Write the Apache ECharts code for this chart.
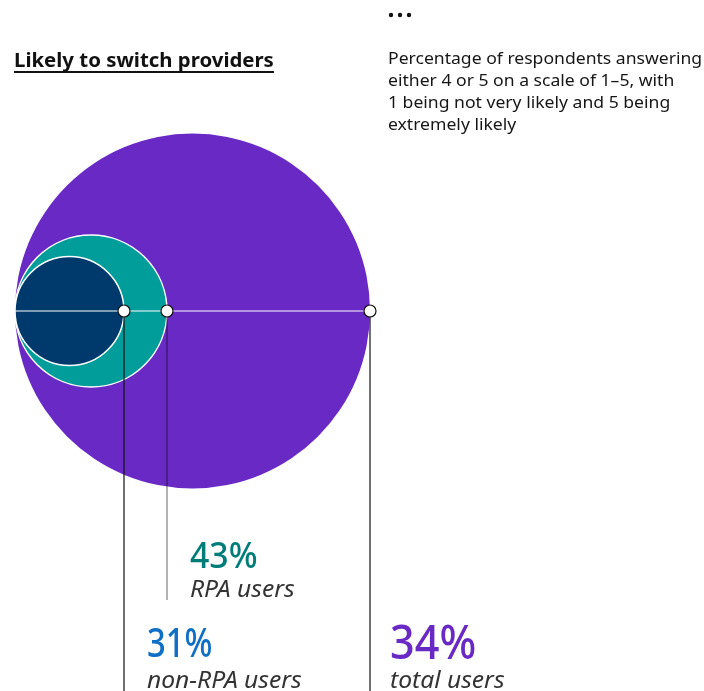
<!DOCTYPE html>
<html>
<head>
<meta charset="utf-8">
<style>
  html, body { margin: 0; padding: 0; background: #ffffff; }
  #chart { width: 704px; height: 691px; }
</style>
<script src="https://cdn.jsdelivr.net/npm/echarts@6/dist/echarts.min.js"></script>
</head>
<body>
<div id="chart"></div>
<script>
// Survey groups, their share answering 4 or 5, and each circle's span along the shared axis
const groups = ['total users', 'RPA users', 'non-RPA users'];
const shares = [34, 43, 31];
const circleSpan = [355, 152, 109];

const fills = ['#6929c4', '#009d9a', '#003a6d'];
const valueColors = ['#6929c4', '#007d79', '#0f6fc6'];
const leaderColors = ['#111111', 'rgba(0,0,0,0.5)', '#111111'];
const valueSizes = [48, 36, 40];
const valueStretch = [0.9, 0.94, 0.82];

const chart = echarts.init(document.getElementById('chart'), null, { renderer: 'canvas' });
const textFont = '"Noto Sans", Roboto, sans-serif';

const seriesData = groups.map((g, i) => [circleSpan[i], shares[i], i]);

const menuDots = [0, 1, 2].map(k => ({
  type: 'circle',
  shape: { cx: 391 + k * 9, cy: 15, r: 2.2 },
  style: { fill: '#111' }
}));

chart.setOption({
  animation: false,
  graphic: menuDots.concat([
    {
      type: 'text', x: 14, y: 51, scaleX: 1.045,
      style: { text: 'Likely to switch providers', font: 'bold 19.5px ' + textFont, fill: '#111' }
    },
    {
      type: 'rect', left: 14, top: 71,
      shape: { width: 260, height: 2 },
      style: { fill: '#111' }
    },
    {
      type: 'text', x: 388, y: 48, scaleX: 1.065,
      style: {
        text: 'Percentage of respondents answering\neither 4 or 5 on a scale of 1\u20135, with\n1 being not very likely and 5 being\nextremely likely',
        font: '16.5px ' + textFont, fill: '#161616', lineHeight: 22
      }
    }
  ]),
  grid: { left: 15, top: 134, width: 355, height: 354 },
  xAxis: { type: 'value', min: 0, max: 355, show: false },
  yAxis: { type: 'value', min: -1, max: 1, show: false },
  series: [
    {
      // circles, all touching the same left edge
      type: 'custom',
      coordinateSystem: 'cartesian2d',
      encode: { x: 0, y: 1 },
      data: seriesData,
      z: 1,
      renderItem: function (params, api) {
        const i = api.value(2);
        const a = api.coord([0, 0]);
        const b = api.coord([api.value(0), 0]);
        const r = (b[0] - a[0]) / 2;
        return {
          type: 'circle',
          shape: { cx: a[0] + r, cy: a[1], r: r },
          style: {
            fill: fills[i],
            stroke: i === 0 ? null : '#ffffff',
            lineWidth: i === 0 ? 0 : 1.5
          }
        };
      }
    },
    {
      // radius line, edge markers, leaders and value labels
      type: 'custom',
      coordinateSystem: 'cartesian2d',
      encode: { x: 0, y: 1 },
      data: seriesData,
      z: 5,
      renderItem: function (params, api) {
        const i = api.value(2);
        const a = api.coord([0, 0]);
        const b = api.coord([api.value(0), 0]);
        const h = api.getHeight();
        const children = [];
        const valueTop = [621, 540, 626][i];
        const nameTop = i === 1 ? 579 : 670;
        const leaderEnd = i === 1 ? 600 : h;
        const lx = i === 0 ? b[0] + 20 : b[0] + 23;
        if (i === 0) {
          children.push({
            type: 'line', z2: 1,
            shape: { x1: a[0], y1: a[1], x2: b[0], y2: b[1] },
            style: { stroke: '#ffffff', lineWidth: 1.2 }
          });
        }
        children.push({
          type: 'line', z2: 2,
          shape: { x1: b[0], y1: b[1], x2: b[0], y2: leaderEnd },
          style: { stroke: leaderColors[i], lineWidth: 1.2 }
        });
        children.push({
          type: 'circle', z2: 3,
          shape: { cx: b[0], cy: b[1], r: 6 },
          style: { fill: '#ffffff', stroke: '#111111', lineWidth: 1.2 }
        });
        children.push({
          type: 'text', z2: 4,
          x: lx, y: valueTop, scaleX: valueStretch[i],
          style: {
            text: api.value(1) + '%',
            font: '500 ' + valueSizes[i] + 'px ' + textFont,
            fill: valueColors[i],
            verticalAlign: 'top'
          }
        });
        children.push({
          type: 'text', z2: 4,
          x: lx, y: nameTop, scaleX: 1.07,
          style: {
            text: groups[i],
            font: 'italic 23px ' + textFont,
            fill: '#333333',
            verticalAlign: 'top'
          }
        });
        return { type: 'group', children: children };
      }
    }
  ]
});
</script>
</body>
</html>
